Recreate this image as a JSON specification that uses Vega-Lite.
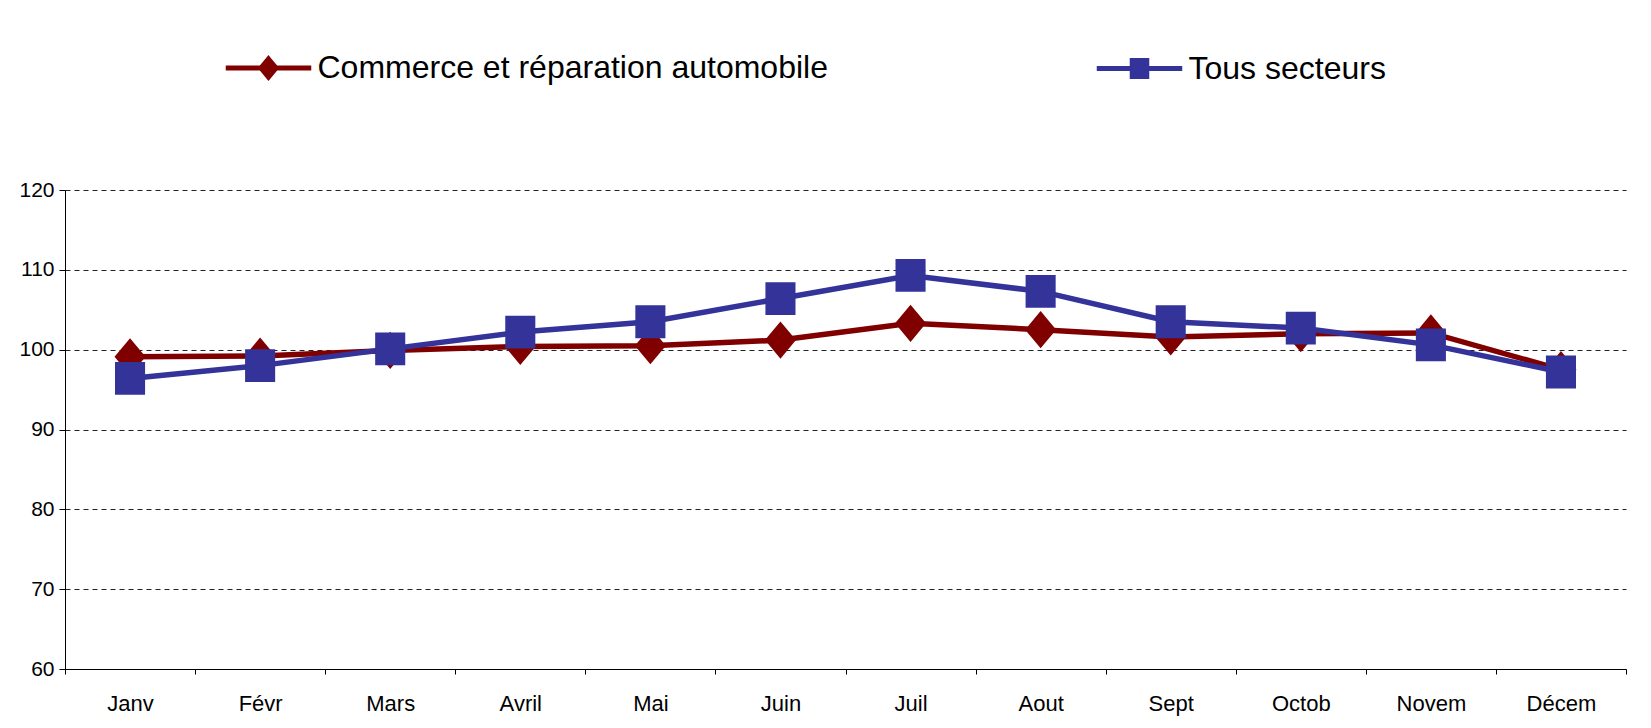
{
  "$schema": "https://vega.github.io/schema/vega-lite/v6.json",
  "width": 1561,
  "height": 479,
  "autosize": {"type": "none"},
  "padding": {"left": 65, "top": 190, "right": 25, "bottom": 59},
  "background": "white",
  "config": {"view": {"stroke": null}, "font": "Liberation Sans"},
  "data": {
    "values": [
      {"mois": "Janv", "serie": "Commerce et réparation automobile", "valeur": 99.1},
      {"mois": "Févr", "serie": "Commerce et réparation automobile", "valeur": 99.2},
      {"mois": "Mars", "serie": "Commerce et réparation automobile", "valeur": 99.9},
      {"mois": "Avril", "serie": "Commerce et réparation automobile", "valeur": 100.4},
      {"mois": "Mai", "serie": "Commerce et réparation automobile", "valeur": 100.5},
      {"mois": "Juin", "serie": "Commerce et réparation automobile", "valeur": 101.2},
      {"mois": "Juil", "serie": "Commerce et réparation automobile", "valeur": 103.3},
      {"mois": "Aout", "serie": "Commerce et réparation automobile", "valeur": 102.5},
      {"mois": "Sept", "serie": "Commerce et réparation automobile", "valeur": 101.6},
      {"mois": "Octob", "serie": "Commerce et réparation automobile", "valeur": 102.0},
      {"mois": "Novem", "serie": "Commerce et réparation automobile", "valeur": 102.1},
      {"mois": "Décem", "serie": "Commerce et réparation automobile", "valeur": 97.5},
      {"mois": "Janv", "serie": "Tous secteurs", "valeur": 96.4},
      {"mois": "Févr", "serie": "Tous secteurs", "valeur": 98.0},
      {"mois": "Mars", "serie": "Tous secteurs", "valeur": 100.1},
      {"mois": "Avril", "serie": "Tous secteurs", "valeur": 102.2},
      {"mois": "Mai", "serie": "Tous secteurs", "valeur": 103.5},
      {"mois": "Juin", "serie": "Tous secteurs", "valeur": 106.4},
      {"mois": "Juil", "serie": "Tous secteurs", "valeur": 109.3},
      {"mois": "Aout", "serie": "Tous secteurs", "valeur": 107.3},
      {"mois": "Sept", "serie": "Tous secteurs", "valeur": 103.5},
      {"mois": "Octob", "serie": "Tous secteurs", "valeur": 102.7},
      {"mois": "Novem", "serie": "Tous secteurs", "valeur": 100.6},
      {"mois": "Décem", "serie": "Tous secteurs", "valeur": 97.2}
    ]
  },
  "encoding": {
    "x": {
      "field": "mois",
      "type": "nominal",
      "sort": null,
      "scale": {"type": "band", "paddingInner": 0, "paddingOuter": 0},
      "axis": {
        "title": null,
        "labelAngle": 0,
        "tickBand": "extent",
        "tickSize": 5,
        "labelPadding": 19,
        "labelFontSize": 22,
        "labelColor": "#000",
        "domainColor": "#000",
        "tickColor": "#000",
        "grid": false
      }
    },
    "y": {
      "field": "valeur",
      "type": "quantitative",
      "scale": {"domain": [60, 120], "nice": false, "zero": false},
      "axis": {
        "title": null,
        "values": [60, 70, 80, 90, 100, 110, 120],
        "grid": true,
        "gridDash": [5, 4],
        "gridColor": "#222",
        "gridWidth": 1,
        "domainColor": "#000",
        "tickColor": "#000",
        "tickSize": 6,
        "labelPadding": 5,
        "labelFontSize": 21,
        "labelColor": "#000"
      }
    },
    "color": {
      "field": "serie",
      "type": "nominal",
      "scale": {
        "domain": ["Commerce et réparation automobile", "Tous secteurs"],
        "range": ["#800000", "#333399"]
      },
      "legend": {
        "title": null,
        "orient": "none",
        "direction": "horizontal",
        "legendX": 187.5,
        "legendY": -138,
        "padding": 0,
        "columnPadding": 258,
        "symbolSize": 225,
        "symbolStrokeWidth": 5,
        "labelOffset": 33,
        "labelFontSize": 32,
        "labelColor": "#000",
        "labelLimit": 1000,
        "encode": {
          "symbols": {
            "update": {
              "stroke": {"scale": "color", "field": "value"},
              "fill": {"scale": "color", "field": "value"},
              "strokeWidth": {"value": 5},
              "opacity": {"value": 1}
            }
          }
        }
      }
    }
  },
  "layer": [
    {"mark": {"type": "line", "strokeWidth": 5.5}},
    {
      "mark": {"type": "point", "filled": true, "opacity": 1, "size": 961, "strokeWidth": 0},
      "encoding": {
        "shape": {
          "field": "serie",
          "type": "nominal",
          "scale": {
            "domain": ["Commerce et réparation automobile", "Tous secteurs"],
            "range": [
              "M-5.7,0H5.7M0,-1.2L1,0L0,1.2L-1,0Z",
              "M-5.7,0H5.7M-0.97,-1.06H0.97V1.06H-0.97Z"
            ]
          },
          "legend": {
            "title": null,
            "orient": "none",
            "direction": "horizontal",
            "legendX": 187.5,
            "legendY": -138,
            "padding": 0,
            "columnPadding": 258,
            "symbolSize": 225,
            "symbolStrokeWidth": 5,
            "labelOffset": 33,
            "labelFontSize": 32,
            "labelColor": "#000",
            "labelLimit": 1000
          }
        }
      }
    }
  ]
}
